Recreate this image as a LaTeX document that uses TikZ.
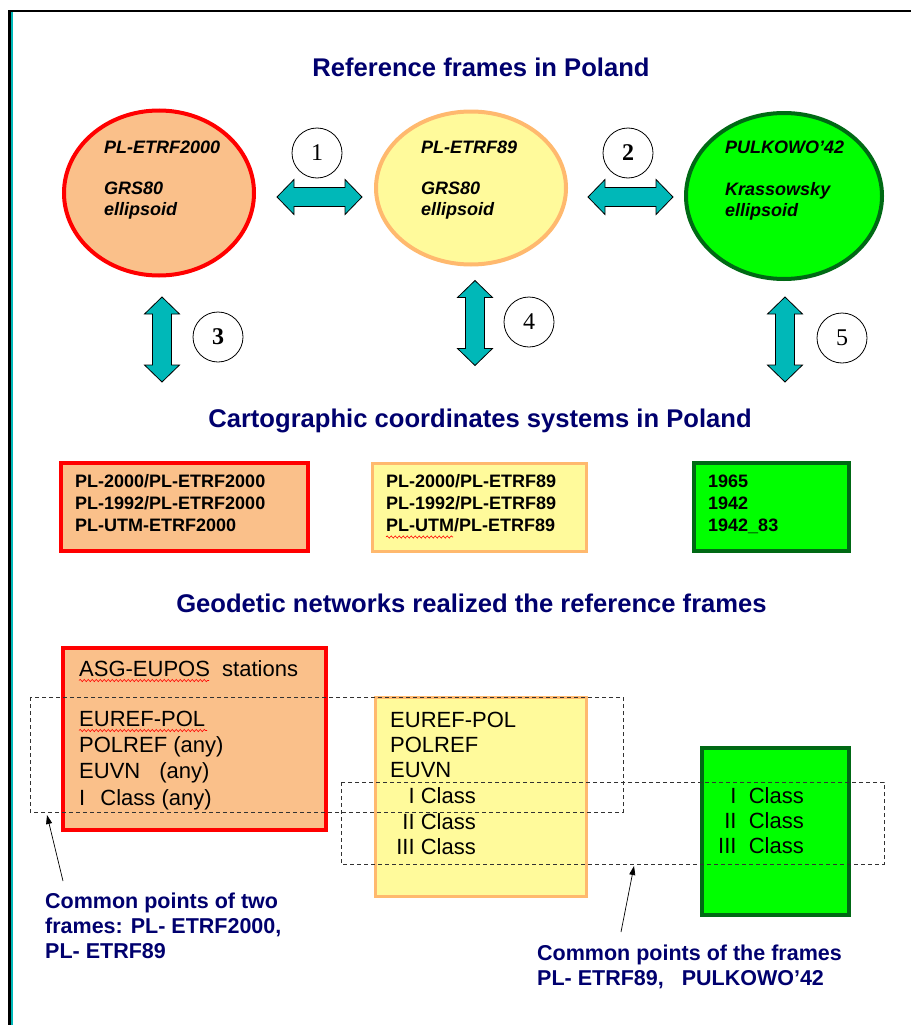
\documentclass[tikz,border=0pt]{standalone}
\usepackage{fontspec}
\setmainfont{Liberation Sans}
\newfontfamily\numfont{Liberation Serif}
\usetikzlibrary{shapes.geometric,arrows.meta,decorations.pathmorphing}
\definecolor{navy}{RGB}{0,0,110}
\definecolor{tealc}{RGB}{0,184,184}
\definecolor{orfill}{RGB}{250,192,138}
\definecolor{redline}{RGB}{255,0,0}
\definecolor{yefill}{RGB}{255,250,155}
\definecolor{yeline}{RGB}{255,185,110}
\definecolor{grfill}{RGB}{0,255,0}
\definecolor{grline}{RGB}{0,105,20}
\definecolor{dashc}{RGB}{50,50,50}
\begin{document}
\begin{tikzpicture}[x=1pt,y=-1pt,
  title/.style={font=\bfseries\fontsize{25.6}{30}\selectfont, text=navy, inner sep=0, anchor=base},
  etext/.style={font=\bfseries\itshape\fontsize{18}{21}\selectfont, inner sep=0, anchor=base west},
  ctext/.style={font=\bfseries\fontsize{18}{21}\selectfont, inner sep=0, anchor=base west},
  btext/.style={font=\fontsize{22}{26}\selectfont, inner sep=0, anchor=base west},
  btexte/.style={font=\fontsize{22}{26}\selectfont, inner sep=0, anchor=base east},
  ntext/.style={font=\bfseries\fontsize{21.5}{25}\selectfont, text=navy, inner sep=0, anchor=base west},
  frameell/.style={ellipse, line width=4, inner sep=0},
  boxr/.style={rectangle, inner sep=0},
  numcirc/.style={circle, draw, line width=0.8, fill=white, minimum size=50, inner sep=0, font=\numfont\fontsize{24}{26}\selectfont},
  blockarrow/.style={fill=tealc, draw=black, line width=0.8, line join=miter},
  dblarrow/.pic={\path[blockarrow] (-42.5,0) -- (-25.5,-17.5) -- (-25.5,-9.5) -- (25.5,-9.5) -- (25.5,-17.5) -- (42.5,0) -- (25.5,17.5) -- (25.5,9.5) -- (-25.5,9.5) -- (-25.5,17.5) -- cycle;},
  dashrect/.style={draw=dashc, line width=1, dash pattern=on 4pt off 3pt},
  pointer/.style={-{Triangle[length=9,width=6]}, line width=0.7},
  squig/.style={decorate, decoration={snake, amplitude=1.1, segment length=4}, draw=red, line width=0.6}
]
\useasboundingbox (0,0) rectangle (911,1025);
\fill[white] (0,0) rectangle (911,1025);
% frame
\draw[line width=2.5] (9.5,1025) -- (9.5,11) -- (911,11);
\draw[tealc, line width=1.2] (12,12.5) -- (12,1025);

% titles
\node[title] (t1) at (481,77) {Reference frames in Poland};
\node[title] (t2) at (480,427) {Cartographic coordinates systems in Poland};
\node[title] (t3) at (471.5,612) {Geodetic networks realized the reference frames};

% ellipses
\node[frameell, draw=redline, fill=orfill, minimum width=190, minimum height=165] (e1) at (159,193) {};
\node[frameell, draw=yeline, fill=yefill, minimum width=190, minimum height=153] (e2) at (471,188) {};
\node[frameell, draw=grline, fill=grfill, minimum width=196, minimum height=166] (e3) at (784,196) {};

\node[etext] (e1a) at (104,153.5) {PL-ETRF2000};
\node[etext] (e1b) at (104,194.5) {GRS80};
\node[etext] (e1c) at (104,215.5) {ellipsoid};
\node[etext] (e2a) at (421,153.5) {PL-ETRF89};
\node[etext] (e2b) at (421,194.5) {GRS80};
\node[etext] (e2c) at (421,215.5) {ellipsoid};
\node[etext] (e3a) at (725,153.5) {PULKOWO’42};
\node[etext] (e3b) at (725,195.5) {Krassowsky};
\node[etext] (e3c) at (725,216.5) {ellipsoid};

% block arrows
\pic at (319.5,197) {dblarrow};
\pic at (630.5,197) {dblarrow};
\pic[rotate=90] at (162,339.5) {dblarrow};
\pic[rotate=90] at (475,323) {dblarrow};
\pic[rotate=90] at (785,339.5) {dblarrow};

% number circles
\node[numcirc] (c1) at (317,153) {1};
\node[numcirc] (c2) at (628,153) {\bfseries 2};
\node[numcirc] (c3) at (218,337) {\bfseries 3};
\node[numcirc] (c4) at (529,322) {4};
\node[numcirc] (c5) at (842,338) {5};

% cartographic boxes
\node[boxr, draw=redline, line width=4, fill=orfill, minimum width=247, minimum height=88] (b1) at (184.5,507) {};
\node[boxr, draw=yeline, line width=3, fill=yefill, minimum width=214, minimum height=88] (b2) at (479,507) {};
\node[boxr, draw=grline, line width=3.5, fill=grfill, minimum width=155, minimum height=88] (b3) at (771.5,507) {};

\node[ctext] (b1a) at (75,487.5) {PL-2000/PL-ETRF2000};
\node[ctext] (b1b) at (75,509.5) {PL-1992/PL-ETRF2000};
\node[ctext] (b1c) at (75,531.5) {PL-UTM-ETRF2000};
\node[ctext] (b2a) at (386,487.5) {PL-2000/PL-ETRF89};
\node[ctext] (b2b) at (386,509.5) {PL-1992/PL-ETRF89};
\node[ctext] (b2c) at (386,531.5) {PL-UTM/PL-ETRF89};
\node[ctext] (b3a) at (708,487.5) {1965};
\node[ctext] (b3b) at (708,509.5) {1942};
\node[ctext] (b3c) at (708,531.5) {1942\_83};
\draw[squig] (386,537) -- (453,537);

% geodetic network boxes
\node[boxr, draw=redline, line width=4, fill=orfill, minimum width=263, minimum height=182] (g1) at (194.5,739) {};
\node[boxr, draw=yeline, line width=3, fill=yefill, minimum width=211, minimum height=199] (g2) at (480.5,796.5) {};
\node[boxr, draw=grline, line width=3.5, fill=grfill, minimum width=147, minimum height=167] (g3) at (775.5,831.5) {};

% dashed rectangles
\draw[dashrect] (30,697) rectangle (623,812);
\draw[dashrect] (341,782) rectangle (884,864);

\node[btext] (g1a) at (79,676) {ASG-EUPOS\ \ stations};
\node[btext] (g1b) at (79,726) {EUREF-POL};
\node[btext] (g1c) at (79,752) {POLREF (any)};
\node[btext] (g1d) at (79,778) {EUVN\hspace{13pt} (any)};
\node[btext] (g1e) at (79,805) {I\hspace{9pt} Class (any)};
\draw[squig] (79,680.5) -- (209,680.5);
\draw[squig] (79,730.5) -- (207,730.5);

\node[btext] (g2a) at (390,727) {EUREF-POL};
\node[btext] (g2b) at (390,752) {POLREF};
\node[btext] (g2c) at (390,777) {EUVN};
\node[btexte] (g2d) at (476,803) {I Class};
\node[btexte] (g2e) at (476,829) {II Class};
\node[btexte] (g2f) at (476,854) {III Class};

\node[btexte] (g3a) at (804,803) {I\ \ Class};
\node[btexte] (g3b) at (804,828) {II\ \ Class};
\node[btexte] (g3c) at (804,853) {III\ \ Class};

% annotations
\node[ntext] (n1a) at (45,908) {Common points of two};
\node[ntext] (n1b) at (45,933) {frames: PL- ETRF2000,};
\node[ntext] (n1c) at (45,958) {PL- ETRF89};
\node[ntext] (n2a) at (537,960) {Common points of the frames};
\node[ntext] (n2b) at (537,985) {PL- ETRF89,\hspace{12pt} PULKOWO’42};

\coordinate (p1s) at (63,881);
\coordinate (p1e) at (47,815);
\coordinate (p2s) at (621,932);
\coordinate (p2e) at (634,866);
\draw[pointer] (p1s) -- (p1e);
\draw[pointer] (p2s) -- (p2e);
\end{tikzpicture}
\end{document}
